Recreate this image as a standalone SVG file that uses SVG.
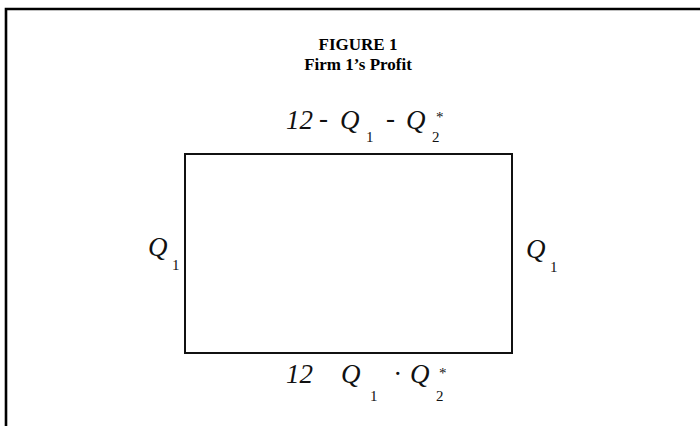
<svg xmlns="http://www.w3.org/2000/svg" width="700" height="426" viewBox="0 0 700 426">
<style>
.frame{fill:none;stroke:#000;stroke-width:2.6}
.box{fill:none;stroke:#111;stroke-width:2}
.title{font-family:"Liberation Serif","Times New Roman",serif;font-weight:bold;font-size:17px;fill:#000;text-anchor:middle}
.lab{font-family:"Liberation Serif","Times New Roman",serif;font-style:italic;font-size:27px;fill:#111}
.sub{font-family:"Liberation Serif","Times New Roman",serif;font-size:15px;fill:#111}
</style>
<rect width="700" height="426" fill="#fff"/>
<path class="frame" d="M6,426 V9 H700"/>
<g id="title">
<text class="title" x="358" y="50">FIGURE 1</text>
<text class="title" x="358" y="70">Firm 1’s Profit</text>
</g>
<g id="profit-box">
<rect class="box" x="185" y="154" width="327" height="199"/>
</g>
<g id="label-top">
<text class="lab" x="286" y="129">12</text>
<text class="lab" x="319" y="127" font-size="18">-</text>
<text class="lab" x="340" y="129">Q</text>
<text class="sub" x="366" y="142">1</text>
<text class="lab" x="386" y="127" font-size="18">-</text>
<text class="lab" x="406" y="129">Q</text>
<text class="sub" x="432" y="142">2</text>
<text class="sub" x="436" y="122">*</text>
</g>
<g id="label-bottom">
<text class="lab" x="286" y="383">12</text>
<text class="lab" x="341" y="383">Q</text>
<text class="sub" x="370" y="401">1</text>
<text class="lab" x="394" y="383" font-size="18">·</text>
<text class="lab" x="410" y="383">Q</text>
<text class="sub" x="436" y="401">2</text>
<text class="sub" x="439" y="378">*</text>
</g>
<g id="label-left">
<text class="lab" x="148" y="256">Q</text>
<text class="sub" x="172" y="270">1</text>
</g>
<g id="label-right">
<text class="lab" x="526" y="258">Q</text>
<text class="sub" x="550" y="272">1</text>
</g>
</svg>
